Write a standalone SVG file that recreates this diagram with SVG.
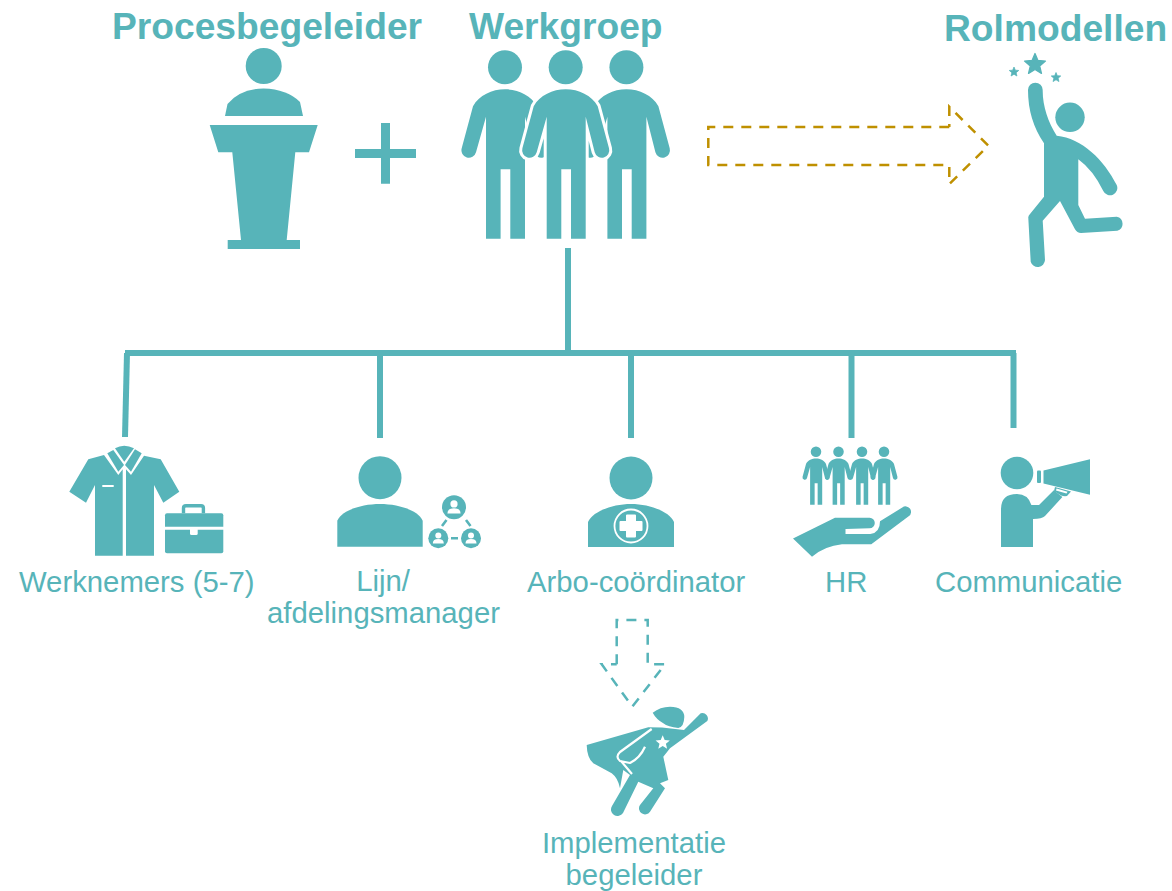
<svg xmlns="http://www.w3.org/2000/svg" xmlns:xlink="http://www.w3.org/1999/xlink" width="1172" height="891" viewBox="0 0 1172 891">
<style>
.t{font-family:"Liberation Sans",Arial,sans-serif;font-size:29.3px;fill:#57B4B9}
.b{font-family:"Liberation Sans",Arial,sans-serif;font-size:37.2px;font-weight:700;fill:#57B4B9}
.m{text-anchor:middle}
.f{fill:#57B4B9}
.w{fill:#fff}
.ln{fill:none;stroke:#57B4B9;stroke-width:6}
.dg{fill:none;stroke:#BF9000;stroke-width:2.5;stroke-dasharray:10 8}
.dt{fill:none;stroke:#57B4B9;stroke-width:2.5;stroke-dasharray:10 8}
.gap{stroke:#fff;stroke-width:6;paint-order:stroke}
</style>
<defs>
<path id="pb" d="M-32,17 C-26,6 -13,0 0,0 C13,0 26,6 32,17 L43.3,59 A7.3,7.3 0 0 1 29,63 L20,27.4 L20,149.4 L5.3,149.4 L5.3,80 L-4.4,80 L-4.4,149.4 L-19,149.4 L-19,27.4 L-29,63 A7.3,7.3 0 0 1 -43.3,59 Z"/>
<g id="person"><circle cx="0" cy="-22" r="17"/><use xlink:href="#pb" href="#pb"/></g>
<polygon id="star" points="0,-1 .265,-.364 .951,-.309 .428,.139 .588,.809 0,.45 -.588,.809 -.428,.139 -.951,-.309 -.265,-.364"/>
<g id="mini"><circle r="1" class="f"/><circle cy="-.28" r=".3" class="w"/><path class="w" d="M-.55,.52 Q-.55,.08 0,.08 Q.55,.08 .55,.52 Z"/></g>
</defs>

<g id="connectors">
<path class="ln" d="M568,248 V353"/>
<path class="ln" d="M125,353 H1016"/>
<path class="ln" d="M127,353 L125,437"/>
<path class="ln" d="M380,353 V438"/>
<path class="ln" d="M631,353 V438"/>
<path class="ln" d="M851.5,353 V438"/>
<path class="ln" d="M1013.5,353 V428"/>
<path class="dg" d="M949.3,127 H708.3 V165 H949.3 V184 L988.3,145.7 L949.3,106.7 V127"/>
<path class="dt" d="M616.7,664.3 V620 H647.7 V664.3 H665 L632.3,706.7 L601.7,664.3 H616.7"/>
</g>

<g id="procesbegeleider">
<text class="b" x="112" y="39">Procesbegeleider</text>
<circle class="f" cx="263.7" cy="66" r="18"/>
<path class="f" d="M225,116 L227.5,104 Q240,89 263.5,88.5 Q287,89 300,102 L303,116 Z"/>
<path class="f" d="M209.7,125 H317.7 L309,152.3 H295.3 L286.7,240 H300 V249 H227.7 V240 H241 L232.3,152.3 H218.3 Z"/>
</g>

<g id="plus">
<path class="f" d="M381,123 H390 V149 H416 V158 H390 V183.7 H381 V158 H355 V149 H381 Z"/>
</g>

<g id="werkgroep">
<text class="b" x="469" y="39">Werkgroep</text>
<use class="f" xlink:href="#person" href="#person" transform="translate(505,89.3)"/>
<use class="f" xlink:href="#person" href="#person" transform="translate(626.4,89.3)"/>
<circle class="f" cx="565.7" cy="67.3" r="17"/>
<use class="f gap" xlink:href="#pb" href="#pb" transform="translate(565.7,89.3)"/>
</g>

<g id="rolmodellen">
<text class="b" x="944" y="40.5">Rolmodellen</text>
<circle class="f" cx="1070" cy="117.3" r="14.7"/>
<use class="f" xlink:href="#star" href="#star" transform="translate(1035,64.5) scale(11)" stroke="#57B4B9" stroke-width=".12" stroke-linejoin="round"/>
<use class="f" xlink:href="#star" href="#star" transform="translate(1014,72) scale(5)" stroke="#57B4B9" stroke-width=".15" stroke-linejoin="round"/>
<use class="f" xlink:href="#star" href="#star" transform="translate(1056,77.5) scale(5)" stroke="#57B4B9" stroke-width=".15" stroke-linejoin="round"/>
<path class="f" d="M1028,90 A7.3,7.3 0 0 1 1042.7,90 C1042.5,106 1048,122 1056.7,135.7 C1082,138 1104,160 1116.7,185 A7.3,7.3 0 0 1 1103.3,191 Q1093,170 1078.3,159.3 V205 L1085,218.7 L1116.7,216.7 A7.2,7.2 0 0 1 1117.3,230.7 L1081,233 Q1077,233 1075,229.3 L1060,201 L1042.7,220.7 L1045,260 A7.3,7.3 0 0 1 1030.7,261.7 L1028.3,218 Q1028,216 1030,214 L1044,196.7 V143.3 Q1028,120 1028,90 Z"/>
</g>

<g id="werknemers">
<path class="f" d="M69.3,491.7 L88.3,459.3 L104,455 L118.3,475 L122.7,469.3 V555.7 H95 V485 L86,502.7 Z"/>
<path class="f" d="M126,469.3 L131,475 L144,455.7 L160.7,459.3 L179.3,491.7 L163.3,502.7 L154,485 V555.7 H126 Z"/>
<path class="f" d="M115,448.3 Q124,443 134,448.3 L124.3,461.7 Z"/>
<path class="f" d="M107.3,453.3 L113.3,450 L124,465 L118.3,471.7 Z"/>
<path class="f" d="M141.7,453.3 L135,449.3 L125,465 L131,471.7 Z"/>
<rect class="w" x="102.3" y="485" width="11.4" height="2"/>
<path class="f" d="M167,513.3 H221.3 Q223.3,513.3 223.3,515.3 V526.8 H165 V515.3 Q165,513.3 167,513.3 Z"/>
<path class="f" d="M165,529.8 H223.3 V551.3 Q223.3,553.3 221.3,553.3 H167 Q165,553.3 165,551.3 Z"/>
<path fill="none" stroke="#57B4B9" stroke-width="3.4" d="M183.5,513.3 V508 Q183.5,505.7 186,505.7 H201 Q203.4,505.7 203.4,508 V513.3"/>
<rect class="w" x="190" y="527" width="7.7" height="8" rx="1.5"/>
<text class="t" x="19" y="592">Werknemers (5-7)</text>
</g>

<g id="manager">
<circle class="f" cx="380" cy="477.7" r="21.5"/>
<path class="f" d="M337.3,546.7 V520.7 C342,510 362,504 380,504 C398,504 418,510 422.7,520.7 V546.7 Z"/>
<use xlink:href="#mini" href="#mini" transform="translate(454,507.3) scale(12)"/>
<use xlink:href="#mini" href="#mini" transform="translate(438.3,538.3) scale(10)"/>
<use xlink:href="#mini" href="#mini" transform="translate(471,538.3) scale(10)"/>
<path fill="none" stroke="#57B4B9" stroke-width="2.6" d="M442,526 L446.5,520 M466,520 L470.5,526 M451,538.3 H458"/>
<text class="t m" x="383" y="591">Lijn/</text>
<text class="t m" x="383.5" y="622.5">afdelingsmanager</text>
</g>

<g id="arbo">
<circle class="f" cx="631" cy="478" r="21.5"/>
<path class="f" d="M588,547 V522 C592,512 612,504 631,504 C650,504 670,512 674,522 V547 Z"/>
<circle cx="631" cy="526" r="16.5" fill="none" stroke="#fff" stroke-width="1.8"/>
<path class="w" stroke="#fff" stroke-width="2" stroke-linejoin="round" d="M627,515.5 H635 V522 H641.5 V530 H635 V536.5 H627 V530 H620.5 V522 H627 Z"/>
<text class="t" x="527" y="592">Arbo-coördinator</text>
</g>

<g id="hr">
<use class="f" xlink:href="#person" href="#person" transform="translate(816,458.5) scale(.31)"/>
<use class="f" xlink:href="#person" href="#person" transform="translate(838.5,458.5) scale(.31)"/>
<use class="f" xlink:href="#person" href="#person" transform="translate(862,458.5) scale(.31)"/>
<use class="f" xlink:href="#person" href="#person" transform="translate(884,458.5) scale(.31)"/>
<path class="f" d="M793,538.5 L835,517.8 H869.6 A5.2,5.2 0 0 1 869.6,528.2 L845.5,529 V534 H870.3 Q880,533 880,521.3 L902.3,507.5 A4.6,4.6 0 0 1 909,516 L871.3,544.3 H842 Q824.8,546 812,556.7 Z"/>
<text class="t" x="825" y="592">HR</text>
</g>

<g id="communicatie">
<circle class="f" cx="1017" cy="473" r="16.3"/>
<path class="f" d="M1001,547 V509 Q1001,494 1017,494 Q1028,494 1031.4,505 H1039 L1053.8,490.3 L1062.4,497 L1045,516 Q1042,519 1033,519 V547 Z"/>
<path class="f" d="M1043.5,470.6 L1090,459.3 V494.7 L1043.5,483.4 Z"/>
<rect class="f" x="1037" y="470.6" width="4" height="12.4" rx="1"/>
<path class="f" d="M1055,487 L1071,491.5 L1067,496 Q1064,496.5 1061,495.5 L1054,491 Z"/>
<path class="w" d="M1056.5,488.6 L1067.5,491.8 L1066.5,493.6 L1056,490.4 Z"/>
<text class="t" x="935" y="592">Communicatie</text>
</g>

<g id="implementatie">
<path class="f" d="M652.7,712.7 Q660,706.7 670,706.7 Q684.3,707 684.3,717 Q684,727 678.3,728 Q668,727 663.3,723.3 Q656,719 652.7,712.7 Z"/>
<path class="f" d="M648.3,727.3 L662,727.5 L684,730 L700.7,713.3 A5.5,5.5 0 0 1 707.3,721 L670,748.3 L663.3,756.7 L668.3,780 L660,783.3 L665,788.3 L650,811.7 A6,6 0 0 1 640,805 L653.3,788.3 L638.3,781.7 L623,813 A6,6 0 0 1 612,806 L630,775 L623.3,770 L620,788.3 Q618,778 611.7,773.3 L593.3,763.3 Q587,758 586.7,745 Z"/>
<path fill="none" stroke="#fff" stroke-width="2.2" stroke-linejoin="round" d="M651.7,729 L620,752 Q615,757 620,761 L630,763 Q640,758 645,746.7 M621,761 L632,774"/>
<use class="w" xlink:href="#star" href="#star" transform="translate(662.7,742.7) scale(7.5)"/>
<text class="t m" x="634" y="853">Implementatie</text>
<text class="t m" x="634" y="885">begeleider</text>
</g>
</svg>
